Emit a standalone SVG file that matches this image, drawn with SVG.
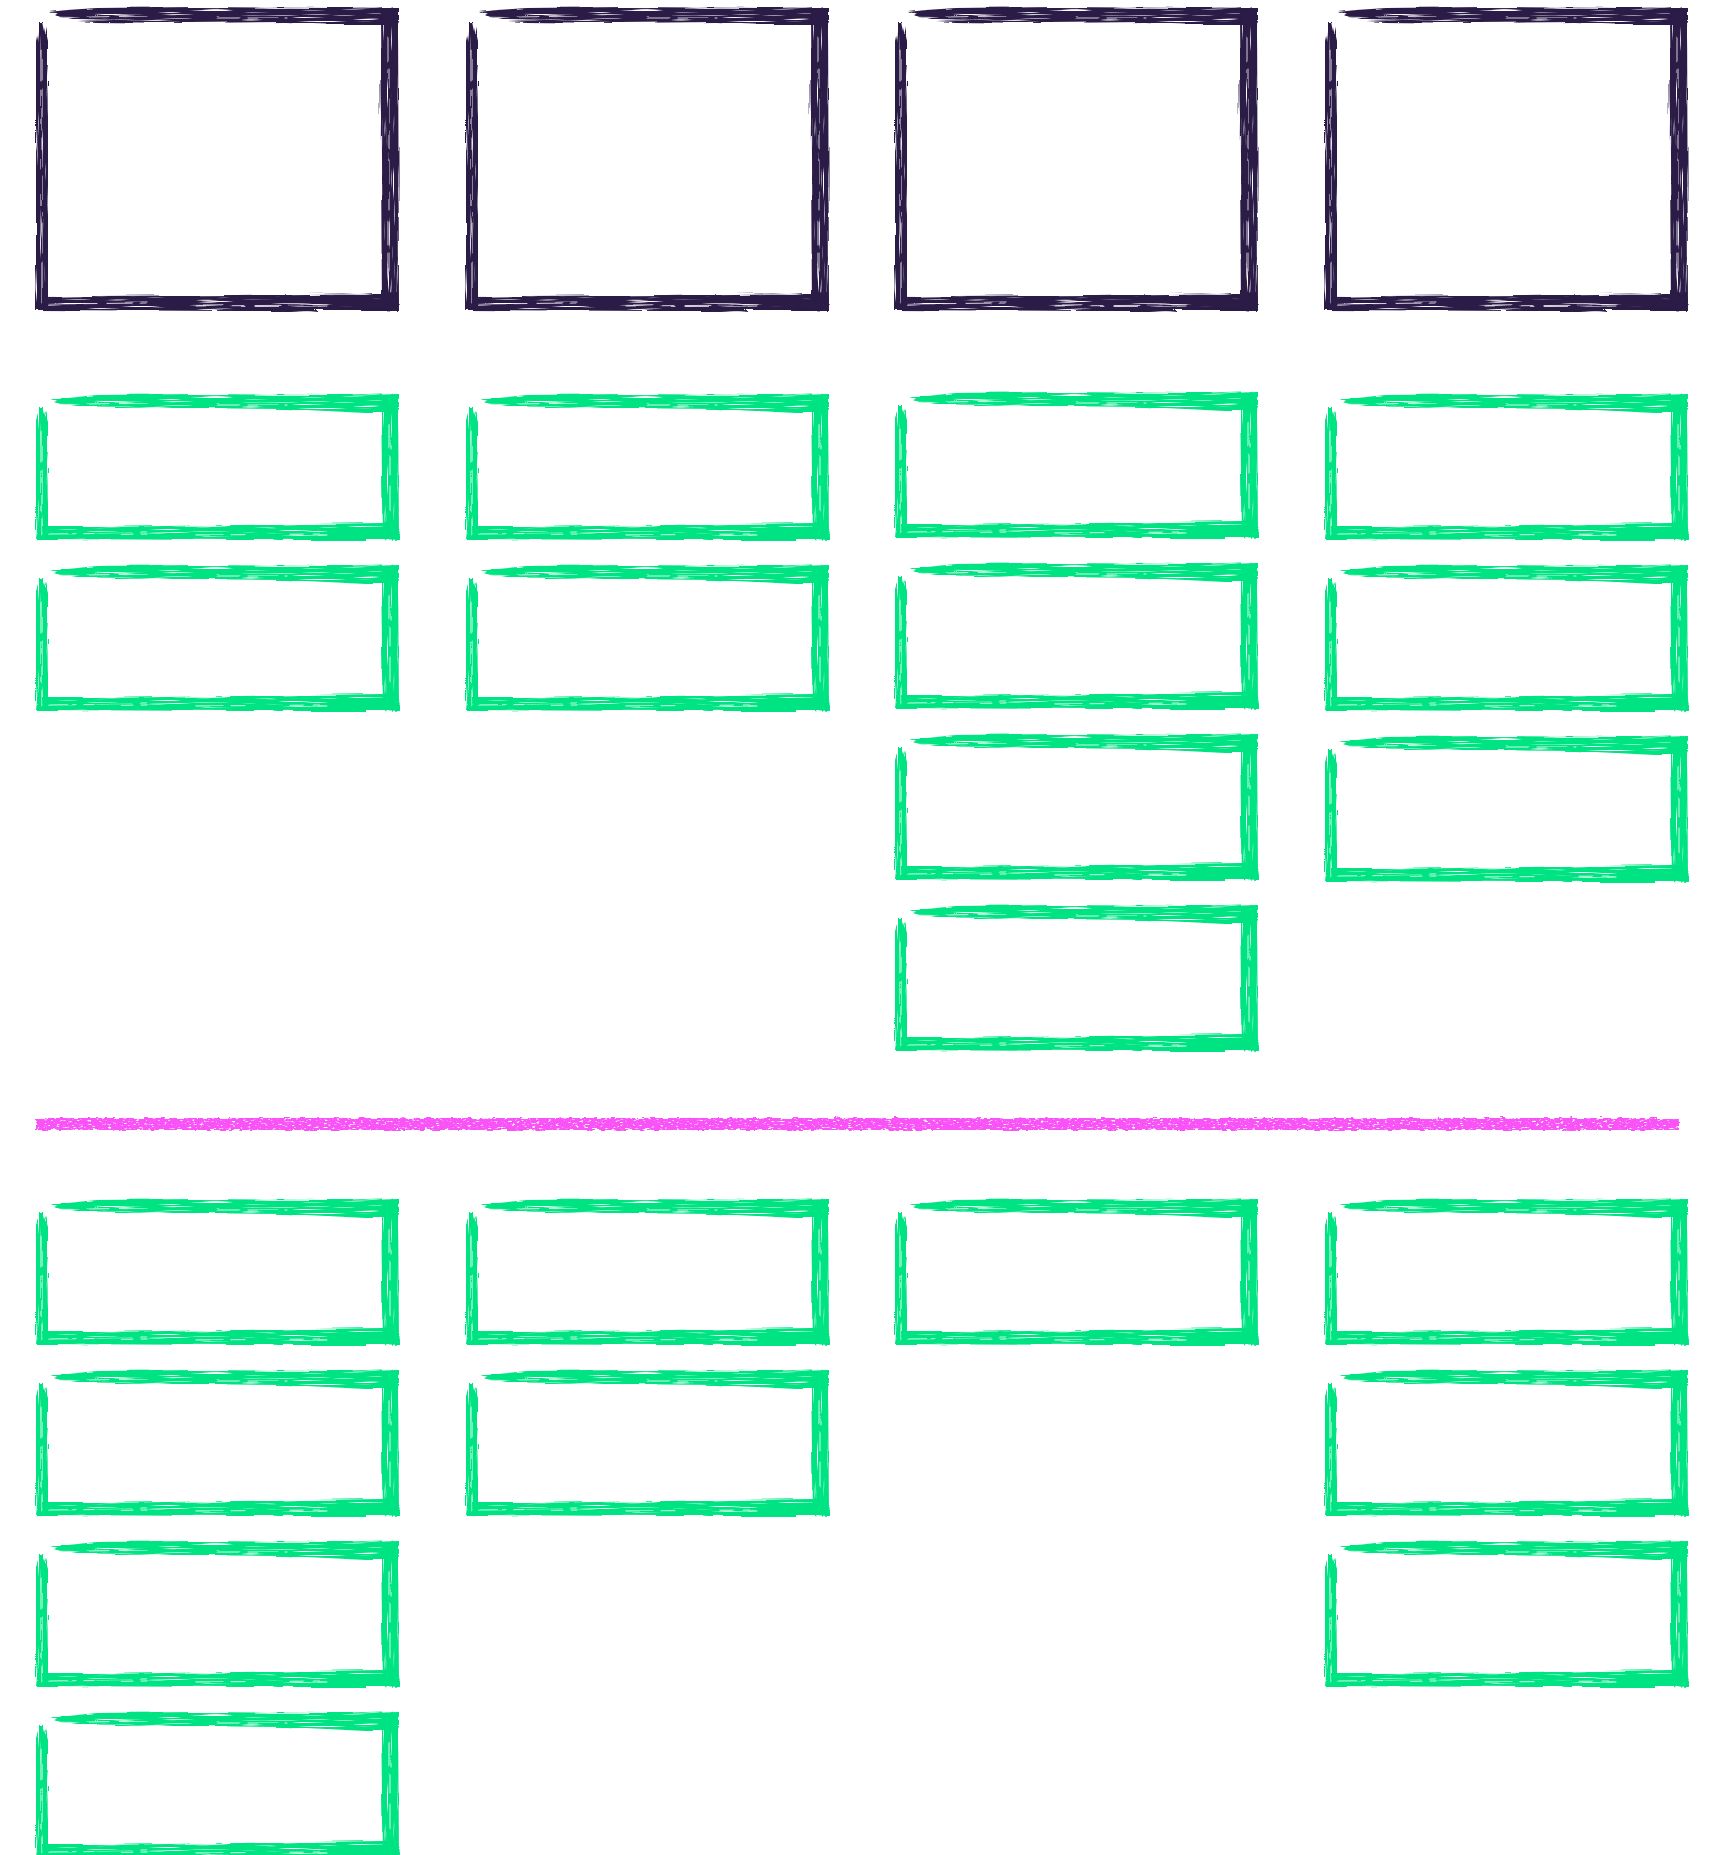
<svg xmlns="http://www.w3.org/2000/svg" width="1716" height="1855" viewBox="0 0 1716 1855">
  <style>
    .green{fill:#00e383}
    .dark{fill:#2b1a47}
    .pink{fill:#f953f7}
    .streak{stroke:#fff;fill:none;stroke-linecap:round}
  </style>
  <defs>
    <filter id="fh" filterUnits="userSpaceOnUse" x="-12" y="-12" width="390" height="340">
      <feTurbulence type="fractalNoise" baseFrequency="0.015 0.35" numOctaves="3" seed="4" result="n"/>
      <feDisplacementMap in="SourceGraphic" in2="n" scale="5" xChannelSelector="R" yChannelSelector="G" result="d"/>
      <feTurbulence type="fractalNoise" baseFrequency="0.02 0.6" numOctaves="2" seed="9" result="m"/>
      <feColorMatrix in="m" type="matrix" values="0 0 0 0 0  0 0 0 0 0  0 0 0 0 0  6 0 0 0 -1.3" result="ma"/>
      <feComposite in="d" in2="ma" operator="in"/>
    </filter>
    <filter id="fv" filterUnits="userSpaceOnUse" x="-12" y="-12" width="390" height="340">
      <feTurbulence type="fractalNoise" baseFrequency="0.35 0.015" numOctaves="3" seed="6" result="n"/>
      <feDisplacementMap in="SourceGraphic" in2="n" scale="5" xChannelSelector="R" yChannelSelector="G" result="d"/>
      <feTurbulence type="fractalNoise" baseFrequency="0.6 0.02" numOctaves="2" seed="11" result="m"/>
      <feColorMatrix in="m" type="matrix" values="0 0 0 0 0  0 0 0 0 0  0 0 0 0 0  6 0 0 0 -1.2" result="ma"/>
      <feComposite in="d" in2="ma" operator="in"/>
    </filter>
    <filter id="fp" x="-1%" y="-80%" width="102%" height="260%">
      <feTurbulence type="fractalNoise" baseFrequency="0.12 0.5" numOctaves="2" seed="3" result="n"/>
      <feDisplacementMap in="SourceGraphic" in2="n" scale="5" xChannelSelector="R" yChannelSelector="G" result="d"/>
      <feTurbulence type="fractalNoise" baseFrequency="0.25 0.7" numOctaves="2" seed="8" result="m"/>
      <feColorMatrix in="m" type="matrix" values="0 0 0 0 0  0 0 0 0 0  0 0 0 0 0  6 0 0 0 -1.4" result="ma"/>
      <feComposite in="d" in2="ma" operator="in"/>
    </filter>

    <!-- green frame 361 x 144 -->
    <g id="gFrame" class="green">
      <g filter="url(#fh)">
        <path d="M12,5 L30,3 L60,0 L160,-1 L300,0 L361,-2 L361,18 L330,18 L250,14 L150,13 L60,13 L40,12 L22,9 Z"/>
        <path d="M0,132 L60,132 L200,130 L345,128 L361,127 L362,145 L200,145 L0,144 Z"/>
        <path class="streak" d="M50,9 L110,8 M180,10 L250,10" stroke-width="0.8" stroke-dasharray="22 9 30 7"/>
        <path class="streak" d="M12,139 L110,138 M160,140 L290,139" stroke-width="0.8" stroke-dasharray="26 8 14 10"/>
      </g>
      <g filter="url(#fv)">
        <path d="M344,2 L361,-1 L362,145 L346,144 L345,80 Z"/>
        <path d="M-1,24 L3,12 L7,12 L11,26 L11,144 L-1,144 Z"/>
        <path class="streak" d="M353,30 L353,120" stroke-width="0.8" stroke-dasharray="24 8 18 11"/>
        <path class="streak" d="M5,36 L5,139" stroke-width="0.9" stroke-dasharray="30 9 40 8"/>
      </g>
    </g>

    <!-- dark frame 361 x 302 -->
    <g id="dFrame" class="dark">
      <g filter="url(#fh)">
        <path d="M12,4 L30,2 L60,0 L160,-1 L300,0 L361,-1 L361,17 L330,17 L250,14 L150,15 L60,14 L40,13 L22,9 Z"/>
        <path d="M0,289 L60,288 L200,287 L345,285 L361,284 L362,303 L200,303 L0,302 Z"/>
        <path class="streak" d="M50,9 L110,8 M180,10 L250,10" stroke-width="0.8" stroke-dasharray="22 9 30 7"/>
        <path class="streak" d="M12,296 L110,295 M160,298 L290,297" stroke-width="0.8" stroke-dasharray="26 8 14 10"/>
      </g>
      <g filter="url(#fv)">
        <path d="M343,2 L361,0 L362,303 L345,302 L344,150 Z"/>
        <path d="M-1,32 L3,14 L7,14 L11,32 L11,302 L-1,302 Z"/>
        <path class="streak" d="M352,30 L352,270" stroke-width="0.8" stroke-dasharray="24 8 18 11"/>
        <path class="streak" d="M5,42 L5,296" stroke-width="0.9" stroke-dasharray="30 9 40 8"/>
      </g>
    </g>
  </defs>

  <rect width="1716" height="1855" fill="#fff"/>

  <!-- top dark frames -->
  <g id="header-1"><use href="#dFrame" x="37" y="8"/></g>
  <g id="header-2"><use href="#dFrame" x="467" y="8"/></g>
  <g id="header-3"><use href="#dFrame" x="896" y="8"/></g>
  <g id="header-4"><use href="#dFrame" x="1326" y="8"/></g>

  <!-- upper green cards -->
  <g id="card-1-1"><use href="#gFrame" x="37" y="395"/></g>
  <g id="card-1-2"><use href="#gFrame" x="37" y="566"/></g>
  <g id="card-2-1"><use href="#gFrame" x="467" y="395"/></g>
  <g id="card-2-2"><use href="#gFrame" x="467" y="566"/></g>
  <g id="card-3-1"><use href="#gFrame" x="896" y="393"/></g>
  <g id="card-3-2"><use href="#gFrame" x="896" y="564"/></g>
  <g id="card-3-3"><use href="#gFrame" x="896" y="735"/></g>
  <g id="card-3-4"><use href="#gFrame" x="896" y="906"/></g>
  <g id="card-4-1"><use href="#gFrame" x="1326" y="395"/></g>
  <g id="card-4-2"><use href="#gFrame" x="1326" y="566"/></g>
  <g id="card-4-3"><use href="#gFrame" x="1326" y="737"/></g>

  <!-- divider -->
  <g id="divider"><rect class="pink" x="36" y="1118" width="1643" height="12" filter="url(#fp)"/></g>

  <!-- lower green cards -->
  <g id="card-5-1"><use href="#gFrame" x="37" y="1200"/></g>
  <g id="card-5-2"><use href="#gFrame" x="37" y="1371"/></g>
  <g id="card-5-3"><use href="#gFrame" x="37" y="1542"/></g>
  <g id="card-5-4"><use href="#gFrame" x="37" y="1713"/></g>
  <g id="card-6-1"><use href="#gFrame" x="467" y="1200"/></g>
  <g id="card-6-2"><use href="#gFrame" x="467" y="1371"/></g>
  <g id="card-7-1"><use href="#gFrame" x="896" y="1200"/></g>
  <g id="card-8-1"><use href="#gFrame" x="1326" y="1200"/></g>
  <g id="card-8-2"><use href="#gFrame" x="1326" y="1371"/></g>
  <g id="card-8-3"><use href="#gFrame" x="1326" y="1542"/></g>
</svg>
